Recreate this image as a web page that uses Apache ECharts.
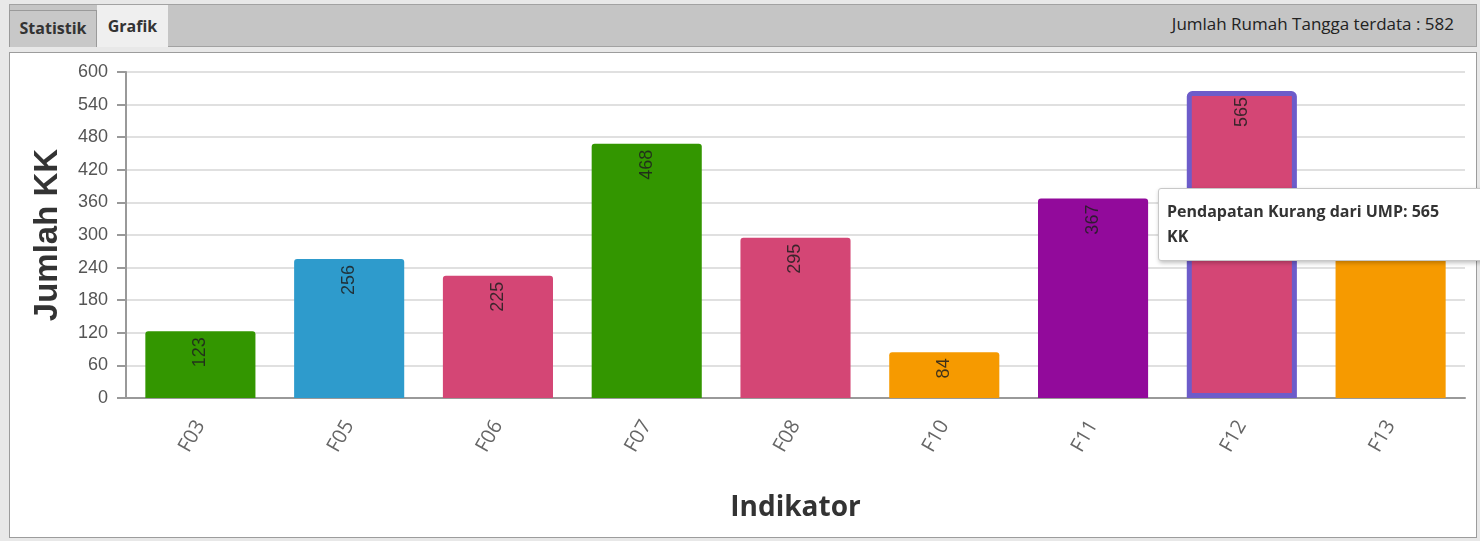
<!DOCTYPE html>
<html>
<head>
<meta charset="utf-8">
<script src="https://cdn.jsdelivr.net/npm/echarts@6/dist/echarts.min.js"></script>
<style>
  html,body{margin:0;padding:0;width:1480px;height:541px;overflow:hidden;background:#e8e8e8;font-family:"Open Sans","Noto Sans",sans-serif;}
  #tabbar{position:absolute;left:9px;top:4px;width:1466px;height:41px;background:#c5c5c5;border:1px solid #a2a2a2;}
  .tab{position:absolute;font-weight:bold;font-size:16px;color:#333;text-align:center;box-sizing:border-box;}
  #tab1{left:9px;top:10px;width:88px;height:37px;line-height:35px;background:#c8c8c8;border:1px solid #9a9a9a;border-bottom:none;}
  #tab2{left:97px;top:4px;width:71px;height:43px;line-height:42px;background:#efefef;border-top:1px solid #a2a2a2;}
  #info{position:absolute;right:26px;top:4px;height:42px;line-height:40px;font-size:17px;color:#222;}
  #panel{position:absolute;left:9px;top:52px;width:1466px;height:484px;background:#fff;border:1px solid #9c9c9c;}
  #chart{position:absolute;left:0;top:0;width:1480px;height:541px;}
</style>
</head>
<body>
<div id="tabbar"></div>
<div id="tab1" class="tab">Statistik</div>
<div id="tab2" class="tab">Grafik</div>
<div id="info">Jumlah Rumah Tangga terdata : 582</div>
<div id="panel"></div>
<div id="chart"></div>
<script>
const categories = ['F03','F05','F06','F07','F08','F10','F11','F12','F13'];
const values = [123, 256, 225, 468, 295, 84, 367, 565, 320];
const barColors = ['#339600','#2e9bcc','#d44675','#339600','#d44675','#f69a00','#920a9b','#d44675','#f69a00'];
const yMin = 0, yMax = 600, yInterval = 60;
const yAxisTitle = 'Jumlah KK';
const xAxisTitle = 'Indikator';
const tipIndex = 7;
const tipLabel = 'Pendapatan Kurang dari UMP';
const tipUnit = 'KK';

const chart = echarts.init(document.getElementById('chart'), null, {renderer:'canvas'});
const data = values.map((v, i) => {
  const item = {value: v, itemStyle: {color: barColors[i]}};
  if (i === tipIndex) { item.itemStyle.borderColor = '#6d5cca'; item.itemStyle.borderWidth = 5; }
  return item;
});
chart.setOption({
  animation: false,
  grid: {left: 126, right: 15, top: 72, bottom: 143},
  tooltip: {
    trigger: 'item', triggerOn: 'none', alwaysShowContent: true, transitionDuration: 0,
    position: [1158, 188],
    backgroundColor: '#fff', borderColor: '#c8c8c8', borderWidth: 1, padding: [10, 40, 11, 8],
    extraCssText: 'border-radius:3px;box-shadow:1px 2px 4px rgba(0,0,0,0.25);',
    textStyle: {fontFamily: 'Open Sans', fontWeight: 'bold', fontSize: 16, color: '#333', lineHeight: 24},
    formatter: p => '<div style="white-space:normal;width:292px;font-weight:bold;font-size:16px;line-height:25px;color:#333">' + tipLabel + ': ' + p.value + ' ' + tipUnit + '</div>'
  },
  xAxis: {
    type: 'category', data: categories,
    name: xAxisTitle, nameLocation: 'middle', nameGap: 96,
    nameTextStyle: {fontFamily: 'Open Sans', fontWeight: 'bold', fontSize: 28, color: '#333'},
    axisLine: {lineStyle: {color: '#999', width: 2}},
    axisTick: {alignWithLabel: true, length: 12, lineStyle: {color: '#888', width: 2}},
    axisLabel: {rotate: 60, margin: 24, fontFamily: 'Open Sans', fontSize: 20, color: '#666'}
  },
  yAxis: {
    type: 'value', min: yMin, max: yMax, interval: yInterval,
    name: yAxisTitle, nameLocation: 'middle', nameRotate: 90, nameGap: 62,
    nameTextStyle: {fontFamily: 'Liberation Sans', fontWeight: 'bold', fontSize: 33, color: '#333'},
    axisLine: {show: true, lineStyle: {color: '#999', width: 2}},
    axisTick: {show: true, length: 9, lineStyle: {color: '#999', width: 2}},
    axisLabel: {margin: 18, fontFamily: 'Liberation Sans', fontSize: 18, color: '#555'},
    splitLine: {lineStyle: {color: '#e0e0e0', width: 2}}
  },
  series: [{
    type: 'bar', data: data, barCategoryGap: '26%',
    itemStyle: {borderRadius: [3, 3, 0, 0]},
    label: {show: true, position: 'insideTop', rotate: 90, align: 'right', verticalAlign: 'middle',
      distance: 6, fontFamily: 'Liberation Sans', fontSize: 18, color: 'rgba(30,30,30,0.85)'},
    emphasis: {disabled: true}
  }]
});
chart.dispatchAction({type: 'showTip', seriesIndex: 0, dataIndex: tipIndex});
</script>
</body>
</html>
